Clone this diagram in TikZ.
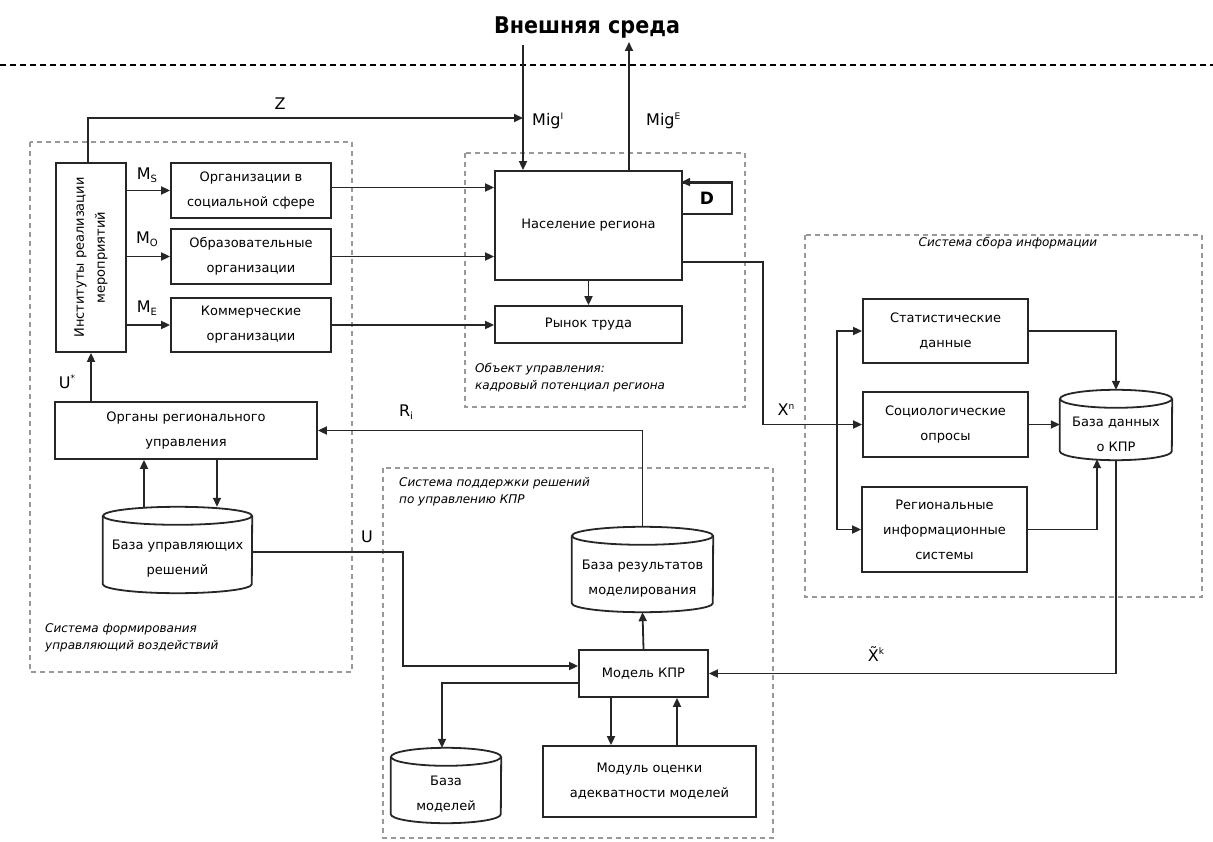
\documentclass[tikz,border=0pt]{standalone}
\usepackage{fontspec}
\setmainfont{DejaVu Sans}
\newfontfamily\titlefont{DejaVu Sans Condensed}
\usetikzlibrary{arrows.meta,calc}
\newcommand\lsub[1]{\raisebox{-3.5pt}{\fontsize{10}{10}\selectfont #1}}
\newcommand\lsup[1]{\raisebox{6.5pt}{\fontsize{9}{9}\selectfont #1}}
\newcommand\dbcyl[6]{% name, xl, yt, xr, yb, text
  \node[minimum width=#4pt-#2pt, minimum height=#5pt-#3pt, inner sep=0pt] (#1) at ({(#2+#4)/2},{(#3+#5)/2}) {};
  \draw[boxline] ($(#1.north west)+(0,-9pt)$) -- ($(#1.south west)+(0,9pt)$)
     arc[start angle=180, end angle=360, x radius={(#4-#2)/2*1pt}, y radius=9pt]
     -- ($(#1.north east)+(0,-9pt)$);
  \draw[boxline] ($(#1.north)+(0,-9pt)$) ellipse[x radius={(#4-#2)/2*1pt}, y radius=9pt];
  \node[cyltext] (#1t) at ($(#1.center)+(0,-9pt)$) {#6};
}
\tikzset{
  boxline/.style={draw=black!85, line width=1.8pt},
  box/.style={boxline, fill=white, align=center, inner sep=2pt, font=\fontsize{13}{25}\selectfont},
  cyltext/.style={align=center, inner sep=0pt, font=\fontsize{13}{25}\selectfont},
  arr/.style={draw=black!85, line width=1.8pt, -{Triangle[length=9pt,width=8pt]}},
  grp/.style={draw=black!40, line width=1.2pt, dash pattern=on 5pt off 4pt},
  grplabel/.style={anchor=north west, align=left, inner sep=0pt, font=\fontsize{12}{17}\selectfont\itshape},
  lab/.style={inner sep=0pt, font=\fontsize{16}{16}\selectfont},
}
\begin{document}
\begin{tikzpicture}[x=1pt,y=-1pt]
\useasboundingbox (0,0) rectangle (1213,842);
% title and separator
\node[inner sep=0pt, font=\titlefont\bfseries\fontsize{23}{23}\selectfont] (env) at (587,28) {Внешняя среда};
\coordinate (sepL) at (0,65);
\coordinate (sepR) at (1213,65);
\draw[black, line width=1.8pt, dash pattern=on 6pt off 4pt] (sepL) -- (sepR);

% groups
\draw[grp] (30,142) rectangle (352,672);
\draw[grp] (465,153) rectangle (745,407);
\draw[grp] (805,235) rectangle (1202,597);
\draw[grp] (383,468) rectangle (773,838);
\node[grplabel] (gl1) at (45,623) {Система формирования\\управляющий воздействий};
\node[grplabel] (gl2) at (475,363) {Объект управления:\\кадровый потенциал региона};
\node[grplabel, anchor=north] (gl3) at (1008,237) {Система сбора информации};
\node[grplabel] (gl4) at (399,477) {Система поддержки решений\\по управлению КПР};

% boxes
\node[box, minimum width=70pt, minimum height=189pt] (inst) at (91,257.5) {};
\node[rotate=90, align=center, font=\fontsize{13}{21}\selectfont] (instT) at (91,257.5) {Институты реализации\\мероприятий};
\node[box, minimum width=160pt, minimum height=55pt] (org1) at (251,190.5) {Организации в\\социальной сфере};
\node[box, minimum width=160pt, minimum height=55pt] (org2) at (251,256.5) {Образовательные\\организации};
\node[box, minimum width=160pt, minimum height=54pt] (org3) at (251,325) {Коммерческие\\организации};
\node[box, minimum width=187pt, minimum height=109pt] (pop) at (588.5,225.5) {Население региона};
\node[box, minimum width=187pt, minimum height=37pt] (market) at (588.5,324.5) {Рынок труда};
\node[box, minimum width=50pt, minimum height=31pt, font=\fontsize{17}{17}\selectfont\bfseries] (D) at (707,198.5) {D};
\node[box, minimum width=262pt, minimum height=57pt] (organs) at (186,430.5) {Органы регионального\\управления};
\node[box, minimum width=165pt, minimum height=64pt] (stat) at (945.5,331) {Статистические\\данные};
\node[box, minimum width=165pt, minimum height=65pt] (soc) at (945.5,424.5) {Социологические\\опросы};
\node[box, minimum width=165pt, minimum height=85pt] (reg) at (944.5,529.5) {Региональные\\информационные\\системы};
\node[box, minimum width=129pt, minimum height=47pt] (model) at (643.5,673.5) {Модель КПР};
\node[box, minimum width=213pt, minimum height=71pt] (module) at (649.5,781.5) {Модуль оценки\\адекватности моделей};

% cylinders
\dbcyl{dbU}{103}{507}{252}{593}{База управляющих\\решений}
\dbcyl{dbK}{1060}{390}{1172}{460}{База данных\\о КПР}
\dbcyl{dbRes}{572}{527}{713}{612}{База результатов\\моделирования}
\dbcyl{dbMod}{391}{748}{501}{823}{База\\моделей}

% external connectors
\coordinate (migI) at (523,45);
\coordinate (migE) at (629,42);
\coordinate (zTop) at (88,118);
\draw[arr] (migI) -- (migI |- pop.north);
\draw[arr] (migE |- pop.north) -- (migE);
\draw[arr] (inst.north -| zTop) -- (zTop) -- (zTop -| migI);
\node[lab] (zL) at (280,104) {Z};
\node[lab, anchor=west] (migIL) at (532,121) {Mig\lsup{I}};
\node[lab, anchor=west] (migEL) at (646,121) {Mig\lsup{E}};

% M arrows
\draw[arr] (inst.east |- org1.west) -- (org1.west);
\draw[arr] (inst.east |- org2.west) -- (org2.west);
\draw[arr] (inst.east |- org3.west) -- (org3.west);
\node[lab] (mS) at (147,175) {M\lsub{S}};
\node[lab] (mO) at (147,239) {M\lsub{O}};
\node[lab] (mE) at (147,308) {M\lsub{E}};

% to population / market
\draw[arr] ($(org1.east)+(0,3pt)$) -- ($(org1.east -| pop.west)+(0,3pt)$);
\draw[arr] (org2.east) -- (org2.east -| pop.west);
\draw[arr] (org3.east) -- (org3.east -| market.west);
\draw[arr] (pop.south) -- (market.north);
\draw[arr] (D.north east) -- (D.north west);

% X^n
\coordinate (xk) at (763,262);
\draw[arr] (pop.east |- xk) -- (xk) |- (soc.west);
\node[lab] (xnL) at (786,410) {X\lsup{n}};
\coordinate (br) at (837,424.5);
\draw[arr] (br) |- (stat.west);
\draw[arr] (br) |- (reg.west);

% to DB
\draw[arr] (stat.east) -| (dbK.north);
\draw[arr] (soc.east) -- (soc.east -| dbK.west);
\coordinate (regIn) at (1097,0);
\draw[arr] (reg.east) -| ($(dbK.south -| regIn)+(0,1pt)$);
\draw[arr] (dbK.south) |- (model.east);
\node[lab] (xtL) at (876,654) {X̃\lsup{k}};

% decision support
\draw[arr] (model.north) -- (dbRes.south);
\draw[arr] (dbRes.north) |- (organs.east);
\node[lab] (rL) at (406,412) {R\lsub{i}};
\coordinate (uK) at (403,552);
\draw[arr] (dbU.east |- uK) -- (uK) |- ($(model.west)+(0,7.5pt)$);
\node[lab] (uL) at (367,537) {U};
\coordinate (mK) at (442,683);
\draw[arr] ($(model.west)+(0,-9.5pt)$) -- (mK) -- (mK |- dbMod.north);
\coordinate (dn) at (611,0);
\coordinate (up) at (677,0);
\draw[arr] (model.south -| dn) -- (module.north -| dn);
\draw[arr] (module.north -| up) -- (model.south -| up);

% organs links
\draw[arr] (organs.north -| inst.south) -- (inst.south);
\node[lab] (uS) at (67,382) {U\lsup{*}};
\coordinate (c1) at (144,0);
\coordinate (c2) at (217,0);
\draw[arr] (dbU.north -| c1) -- (organs.south -| c1);
\draw[arr] (organs.south -| c2) -- (dbU.north -| c2);
\end{tikzpicture}
\end{document}
